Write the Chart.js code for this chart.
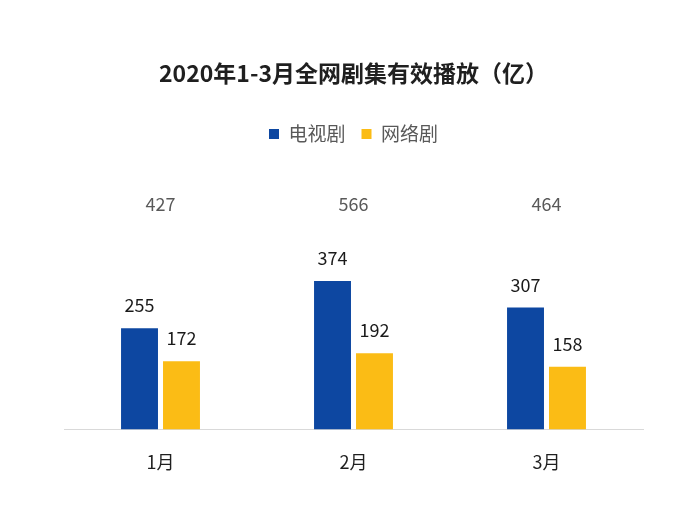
<!DOCTYPE html>
<html>
<head>
<meta charset="utf-8">
<script src="https://cdn.jsdelivr.net/npm/chart.js@4/dist/chart.umd.min.js"></script>
<style>
  html, body { margin: 0; padding: 0; background: #ffffff; }
  #wrap { width: 700px; height: 512px; }
</style>
</head>
<body>
<div id="wrap"><canvas id="c" width="700" height="512"></canvas></div>
<script>
const categories = ["1月", "2月", "3月"];
const tvSeries = [255, 374, 307];
const webSeries = [172, 192, 158];
const totals = [427, 566, 464];
const seriesNames = ["电视剧", "网络剧"];
const titleText = "2020年1-3月全网剧集有效播放（亿）";

const FONT = "'Noto Sans CJK SC', 'Noto Sans', sans-serif";

const labelPlugin = {
  id: 'valueLabels',
  afterDatasetsDraw(chart) {
    const ctx = chart.ctx;
    ctx.save();
    ctx.font = "18px " + FONT;
    ctx.textAlign = 'center';
    ctx.textBaseline = 'alphabetic';
    ctx.fillStyle = '#1a1a1a';
    chart.data.datasets.forEach((ds, di) => {
      const meta = chart.getDatasetMeta(di);
      meta.data.forEach((el, i) => {
        ctx.fillText(String(ds.data[i]), el.x, el.y - 16);
      });
    });
    // totals above each group
    ctx.fillStyle = '#595959';
    const xs = chart.scales.x;
    totals.forEach((t, i) => {
      ctx.fillText(String(t), xs.getPixelForValue(i), chart.chartArea.top + 57);
    });
    ctx.restore();
  }
};

new Chart(document.getElementById('c'), {
  type: 'bar',
  data: {
    labels: categories,
    datasets: [
      { label: seriesNames[0], data: tvSeries, backgroundColor: '#0d47a1' },
      { label: seriesNames[1], data: webSeries, backgroundColor: '#fbbc15' }
    ]
  },
  options: {
    responsive: false,
    animation: false,
    devicePixelRatio: 1,
    datasets: { bar: { categoryPercentage: 0.435, barPercentage: 0.88 } },
    layout: { padding: { left: 64, right: 57, top: 0, bottom: 17 } },
    plugins: {
      title: {
        display: true,
        text: titleText,
        color: '#1f1f1f',
        font: { family: FONT, size: 23, weight: 'bold' },
        padding: { top: 59, bottom: 22 }
      },
      legend: {
        display: true,
        labels: {
          boxWidth: 10,
          boxHeight: 10,
          color: '#595959',
          font: { family: FONT, size: 19 },
          padding: 16
        }
      },
      tooltip: { enabled: false }
    },
    scales: {
      x: {
        grid: { display: false, drawTicks: false },
        border: { display: true, color: '#d9d9d9', width: 1 },
        ticks: { color: '#1f1f1f', font: { family: FONT, size: 18 }, padding: 22 }
      },
      y: {
        display: false,
        min: 0,
        max: 695
      }
    }
  },
  plugins: [labelPlugin]
});
</script>
</body>
</html>
